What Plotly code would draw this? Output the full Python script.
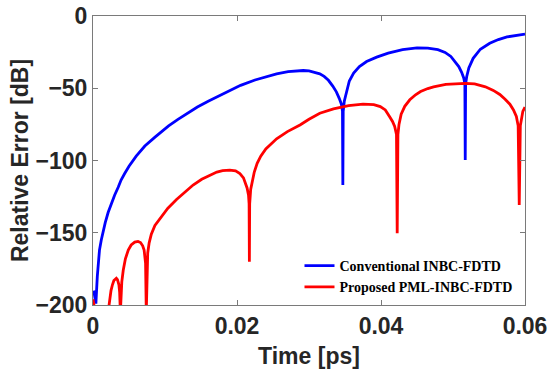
import plotly.graph_objects as go

# Time axis [ps] and relative error [dB] for the two schemes
t_conv = [0.0001, 0.0004, 0.0006, 0.0007, 0.0009, 0.00115, 0.0014, 0.0017, 0.0021,
          0.0025, 0.0030, 0.0035, 0.0039, 0.0044, 0.0050, 0.0060, 0.0072, 0.00857,
          0.0095, 0.0105, 0.0118, 0.0132, 0.0145, 0.0160, 0.0178, 0.0190, 0.0205,
          0.0225, 0.0240, 0.0255, 0.0271, 0.0282, 0.0292, 0.0300, 0.0308, 0.0315,
          0.0321, 0.0327, 0.0333, 0.0338, 0.0342, 0.0345, 0.03465, 0.03470, 0.03475,
          0.0349, 0.0352, 0.0356, 0.0362, 0.0370, 0.0380, 0.0394, 0.0410, 0.0430,
          0.0450, 0.0465, 0.0479, 0.0489, 0.0497, 0.0503, 0.0508, 0.0512, 0.0515,
          0.05165, 0.05170, 0.05175, 0.0519, 0.0522, 0.0528, 0.0538, 0.0551, 0.0563,
          0.0575, 0.0588, 0.0600]
err_conv = [-190, -199, -180, -171, -162, -155, -149, -143, -136,
            -130, -124, -118.5, -113.5, -109, -104, -97, -90, -84,
            -80, -76, -71.5, -67, -63, -59, -54.7, -51.5, -48,
            -44.3, -42, -40, -38.5, -37.9, -37.7, -38, -38.8, -40,
            -41.8, -44.5, -48.5, -52.5, -57, -61, -66, -117, -66,
            -59, -52, -45, -39.5, -35, -31.5, -28.5, -25.7, -23.2,
            -22.1, -22.2, -23.3, -25.2, -28, -31.5, -35, -39, -43,
            -47, -99.7, -47, -42, -36, -29.3, -23, -18.9, -16.3,
            -14.5, -13.3, -12.5]

t_pml = [0.0000, 0.0003, None, 0.0021, 0.0023, 0.0025, 0.0027, 0.0029, 0.00324,
         0.0034, 0.0036, 0.0037, 0.0038, 0.0039, 0.0040, 0.0042, 0.0045, 0.0049,
         0.0053, 0.0058, 0.00625, 0.0066, 0.0069, 0.0071, 0.0072, 0.0073, 0.0074,
         0.0075, 0.0076, 0.0078, 0.0081, 0.0086, 0.0093, 0.0104, 0.0116, 0.0128,
         0.0139, 0.0151, 0.01625, 0.0172, 0.0180, 0.0190, 0.0198, 0.0204, 0.0209,
         0.0212, 0.0214, 0.0216, 0.02168, 0.02172, 0.02176, 0.0219, 0.0221, 0.0224,
         0.0228, 0.0233, 0.0240, 0.0255, 0.0270, 0.02875, 0.0300, 0.0315, 0.0334,
         0.0355, 0.0375, 0.0390, 0.0399, 0.0406, 0.0412, 0.0416, 0.0419, 0.04215,
         0.04225, 0.04235, 0.0425, 0.0428, 0.0433, 0.0440, 0.0448, 0.0455, 0.0465,
         0.0473, 0.0490, 0.0505, 0.0517, 0.0530, 0.0545, 0.0556, 0.0565, 0.0572,
         0.0579, 0.0584, 0.0588, 0.05905, 0.05920, 0.05935, 0.0595, 0.0597, 0.0600]
err_pml = [-196, -205, None, -205, -196, -190, -186, -183, -181.5,
           -182.5, -186, -191, -205, -191, -184, -176, -168, -162,
           -158.5, -156.5, -156, -156.8, -159, -162, -165, -171, -205,
           -172, -164, -157, -151, -145, -140, -133, -127, -121.5,
           -117, -113, -110, -108, -107, -106.6, -107.2, -109, -112,
           -115.5, -119, -124, -130, -170, -130, -120, -114, -108,
           -102, -97, -92, -85, -80, -75.4, -71.5, -67.3, -64.3,
           -62, -61, -61.3, -62.7, -65, -69.7, -73, -76.5, -82,
           -150.4, -82, -75, -68, -62.5, -58, -54.5, -52.3, -50.2,
           -49, -47.3, -46.7, -46.6, -47, -49, -51.5, -54.3, -57.5,
           -61, -65, -69.5, -76, -130.8, -76, -70, -66, -63]

names = ["Conventional INBC-FDTD", "Proposed PML-INBC-FDTD"]
colors = ["#0000FF", "#FF0000"]

x_ticks = [0, 0.02, 0.04, 0.06]
x_ticktext = ["0", "0.02", "0.04", "0.06"]
y_ticks = [0, -50, -100, -150, -200]

fig = go.Figure()
for t, e, name, c in [(t_conv, err_conv, names[0], colors[0]),
                      (t_pml, err_pml, names[1], colors[1])]:
    fig.add_trace(go.Scatter(x=t, y=e, mode="lines", name=name,
                             line=dict(color=c, width=2.8),
                             connectgaps=False))

label_font = dict(family="Liberation Sans, Arial", size=23, color="#262626", weight="bold")

axis_common = dict(
    showline=True, linecolor="#7a7a7a", linewidth=1, mirror="ticks",
    ticks="inside", ticklen=5, tickcolor="#7a7a7a", tickwidth=1,
    showgrid=False, zeroline=False, automargin=False,
    tickfont=label_font,
)

fig.update_xaxes(range=[0, 0.06], tickvals=x_ticks, ticktext=x_ticktext,
                 title=dict(text="Time [ps]", standoff=10, font=label_font),
                 **axis_common)
fig.update_yaxes(range=[-200, 0], tickvals=y_ticks,
                 title=dict(text="Relative Error [dB]", standoff=0, font=label_font),
                 **axis_common)

fig.update_layout(
    width=550, height=372,
    margin=dict(l=93, r=25, t=16, b=67),
    paper_bgcolor="white", plot_bgcolor="white",
    legend=dict(x=0.478, y=0.19, xanchor="left", yanchor="top",
                bgcolor="rgba(0,0,0,0)", borderwidth=0,
                font=dict(family="Liberation Serif, Times New Roman", size=14,
                          color="black", weight="bold"),
                tracegroupgap=0, itemwidth=30),
)

fig.write_html("out.html")
